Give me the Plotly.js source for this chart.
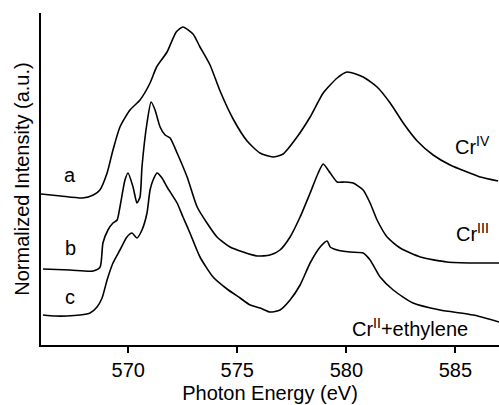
<!DOCTYPE html>
<html>
<head>
<meta charset="utf-8">
<script src="https://cdn.plot.ly/plotly-3.0.1.min.js"></script>
<style>html,body{margin:0;padding:0;background:#fff;}#chart{width:499px;height:405px;}</style>
</head>
<body>
<div id="chart"></div>
<script>
// Photon energy (eV) and normalized intensity (a.u., offset traces)
const energyA = [566.0, 566.9, 567.9, 568.4, 568.7, 569.03, 569.3, 569.62, 570.08, 570.54, 571.0, 571.3, 571.78, 572.2, 572.51, 572.97, 573.29, 573.75, 574.21, 574.81, 575.45, 576.04, 576.64, 577.1, 577.74, 578.34, 578.94, 579.58, 580.04, 580.77, 581.41, 582.01, 582.61, 583.25, 583.98, 584.76, 585.54, 586.14, 586.96];
const intensityA = [151, 149, 147, 150, 155, 172, 195, 218, 235, 245, 262, 278, 293, 313, 318, 311, 298, 280, 254, 226, 204, 192, 188, 191, 208, 228, 252, 267, 273, 268, 258, 242, 222, 204, 190, 180, 173, 168, 164];

const energyB = [566.09, 567.33, 568.39, 568.71, 568.84, 569.07, 569.3, 569.49, 569.62, 569.85, 569.99, 570.22, 570.4, 570.54, 570.63, 570.86, 571.05, 571.23, 571.46, 571.69, 571.92, 572.24, 572.7, 573.16, 573.61, 574.07, 574.67, 575.27, 575.91, 576.5, 576.96, 577.42, 577.88, 578.34, 578.71, 578.94, 579.26, 579.58, 579.94, 580.31, 580.77, 581.09, 581.41, 581.87, 582.47, 583.39, 584.62, 585.91, 587.0];
const intensityB = [76, 75, 74, 78, 102, 115, 122, 125, 138, 165, 172, 158, 142, 148, 178, 222, 243, 235, 218, 210, 207, 192, 168, 138, 122, 108, 98, 93, 89, 90, 95, 108, 128, 152, 172, 181, 172, 163, 163, 162, 155, 142, 125, 108, 97, 88, 83, 82, 82];

const energyC = [566.09, 566.64, 567.19, 567.79, 568.25, 568.57, 568.8, 569.03, 569.3, 569.62, 569.94, 570.17, 570.4, 570.63, 570.86, 571.0, 571.14, 571.32, 571.55, 571.78, 572.24, 572.51, 572.83, 573.29, 573.89, 574.53, 575.13, 575.59, 576.05, 576.5, 576.96, 577.42, 577.88, 578.34, 578.8, 579.12, 579.26, 579.58, 580.17, 580.77, 581.09, 581.55, 582.15, 583.06, 584.3, 585.82, 587.0];
const intensityC = [30, 29, 29, 30, 32, 38, 47, 65, 82, 95, 108, 112, 107, 115, 132, 155, 165, 172, 167, 158, 142, 128, 112, 88, 68, 56, 47, 40, 37, 33, 35, 45, 60, 82, 98, 104, 98, 95, 93, 92, 85, 68, 55, 42, 35, 30, 23];

const xTicks = [570, 575, 580, 585];
const curveLetters = ['a', 'b', 'c'];
const curveNames = ['Cr<sup>IV</sup>', 'Cr<sup>III</sup>', 'Cr<sup>II</sup>+ethylene'];

const lineStyle = {color: '#000', width: 1.6, shape: 'spline', smoothing: 0.6};
const traces = [
  {x: energyA, y: intensityA, mode: 'lines', line: lineStyle, hoverinfo: 'skip'},
  {x: energyB, y: intensityB, mode: 'lines', line: lineStyle, hoverinfo: 'skip'},
  {x: energyC, y: intensityC, mode: 'lines', line: lineStyle, hoverinfo: 'skip'}
];

const letterPos = [[567.35, 170], [567.35, 97], [567.35, 48]];
const namePos = [[585.8, 200], [585.8, 113], [582.9, 18]];
const annotations = [];
curveLetters.forEach((t, i) => annotations.push({x: letterPos[i][0], y: letterPos[i][1], text: t, showarrow: false, xref: 'x', yref: 'y', font: {size: 20, color: '#000'}}));
curveNames.forEach((t, i) => annotations.push({x: namePos[i][0], y: namePos[i][1], text: t, showarrow: false, xref: 'x', yref: 'y', font: {size: 20, color: '#000'}}));

const layout = {
  width: 499, height: 405,
  margin: {l: 41, r: 0, t: 13, b: 60},
  paper_bgcolor: '#fff', plot_bgcolor: '#fff',
  showlegend: false,
  font: {family: '"Liberation Sans", Arial, Helvetica, sans-serif', size: 20, color: '#000'},
  xaxis: {
    range: [566, 587], tickvals: xTicks, ticktext: xTicks.map(String),
    ticks: 'outside', ticklen: 6, tickwidth: 2, tickcolor: '#000',
    showline: true, linecolor: '#000', linewidth: 2, showgrid: false, zeroline: false,
    tickfont: {size: 20, color: '#000'},
    title: {text: 'Photon Energy (eV)', font: {size: 20, color: '#000'}, standoff: 6}
  },
  yaxis: {
    range: [0, 332], showticklabels: false, ticks: '',
    showline: true, linecolor: '#000', linewidth: 2, showgrid: false, zeroline: false,
    title: {text: 'Normalized Intensity (a.u.)', font: {size: 20, color: '#000'}, standoff: 4}
  },
  annotations: annotations
};

Plotly.newPlot('chart', traces, layout, {staticPlot: true, displayModeBar: false});
</script>
</body>
</html>
